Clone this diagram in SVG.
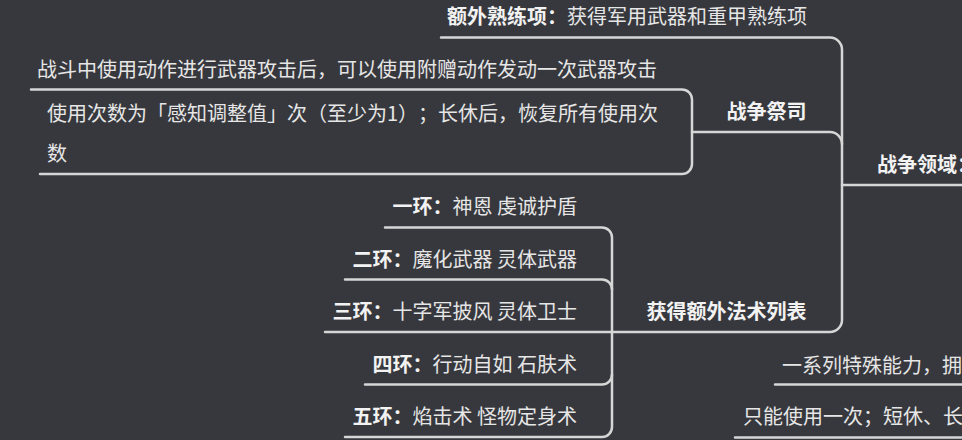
<svg xmlns="http://www.w3.org/2000/svg" width="962" height="440" viewBox="0 0 962 440">
<style>
text{font-family:"Noto Sans CJK SC","Noto Sans",sans-serif;font-size:20px;fill:#e6e6e6;text-spacing-trim:space-all}
.b{font-weight:700;fill:#f2f2f2}
.c path{fill:none;stroke:#d6d6d6;stroke-width:2.5;stroke-linecap:round}
</style>
<rect width="962" height="440" fill="#37383d"/>
<g class="c" id="connectors">
<path d="M441,37.5 H830 A12,12 0 0 1 842,49.5 V320 A12,12 0 0 1 830,332 H612"/>
<path d="M692,132 H830 A12,12 0 0 1 842,144"/>
<path d="M842,185 H962"/>
<path d="M31,89.5 H682 A10,10 0 0 1 692,99.5 V164 A10,10 0 0 1 682,174 H40"/>
<path d="M385,227.5 H602 A10,10 0 0 1 612,237.5 V427 A10,10 0 0 1 602,437 H345"/>
<path d="M345,279.5 H602 A10,10 0 0 1 612,289.5"/>
<path d="M325,332 H612"/>
<path d="M365,384.5 H602 A10,10 0 0 0 612,374.5"/>
<path d="M775,384.5 H962"/>
<path d="M735,437.5 H962"/>
</g>
<g id="root"><text class="b" x="877" y="171.5">战争领域：</text></g>
<g id="proficiency"><text x="447" y="23.5"><tspan class="b">额外熟练项：</tspan>获得军用武器和重甲熟练项</text></g>
<g id="war-priest"><text class="b" x="806.5" y="118.5" text-anchor="end">战争祭司</text></g>
<g id="war-priest-1"><text x="37" y="76.5">战斗中使用动作进行武器攻击后，可以使用附赠动作发动一次武器攻击</text></g>
<g id="war-priest-2"><text x="47" y="120.5">使用次数为「感知调整值」次（至少为1）；长休后，恢复所有使用次</text><text x="47" y="160.5">数</text></g>
<g id="spells"><text class="b" x="806.5" y="319" text-anchor="end">获得额外法术列表</text></g>
<g id="lv1"><text x="577" y="214" text-anchor="end"><tspan class="b">一环：</tspan>神恩 虔诚护盾</text></g>
<g id="lv2"><text x="577" y="266.5" text-anchor="end"><tspan class="b">二环：</tspan>魔化武器 灵体武器</text></g>
<g id="lv3"><text x="577" y="318.5" text-anchor="end"><tspan class="b">三环：</tspan>十字军披风 灵体卫士</text></g>
<g id="lv4"><text x="577" y="371.5" text-anchor="end"><tspan class="b">四环：</tspan>行动自如 石肤术</text></g>
<g id="lv5"><text x="577" y="423.5" text-anchor="end"><tspan class="b">五环：</tspan>焰击术 怪物定身术</text></g>
<g id="channel-1"><text x="782" y="372.5">一系列特殊能力，拥</text></g>
<g id="channel-2"><text x="743" y="424">只能使用一次；短休、长</text></g>
</svg>
